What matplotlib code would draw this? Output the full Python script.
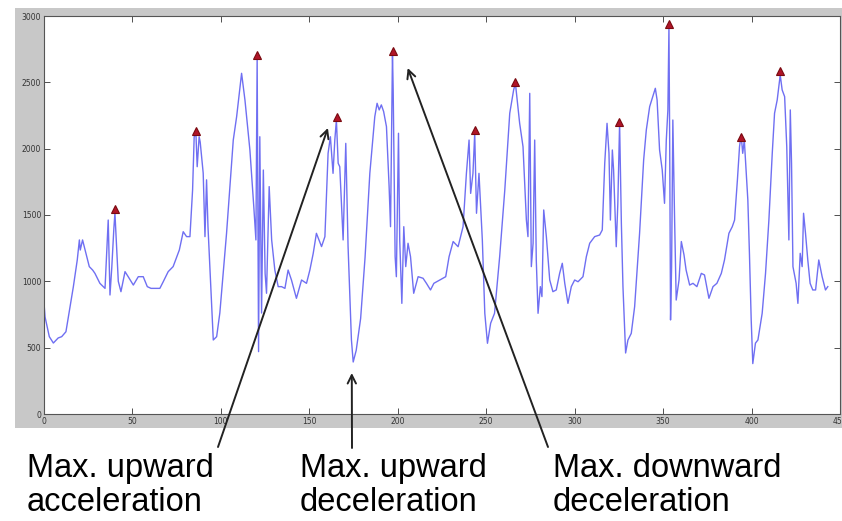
import matplotlib
matplotlib.use("Agg")
import matplotlib.pyplot as plt
from matplotlib.patches import Rectangle

# ---- data ----
sig_x = [0, 0.6, 3, 5.3, 8, 10, 12.4, 14.7, 16.6, 18.8, 20, 20.5, 21.8, 23.7, 25.6, 27.5, 28.8,
         31.6, 34.5, 36.3, 37.3, 38.3, 39.5, 40.1, 41.1, 42, 43.5, 45.8, 47.6, 50.5, 53.3, 56.1,
         58.4, 60.5, 65.5, 67.4, 70.2, 73, 76.5, 78.7, 80.6, 82.5, 84, 84.9, 85.9, 86.6, 87.7,
         88.3, 90, 91, 91.9, 92.7, 95.7, 97.6, 99.4, 103.2, 107, 108.9, 111.7, 113.6, 116.4,
         118.6, 119.8, 120.5, 121.3, 122, 123, 124, 125, 125.8, 127.3, 128.7, 130.5, 132.4,
         134.3, 136.2, 138, 139.9, 142.7, 145.6, 148.4, 150.3, 152.2, 154, 156.9, 158.8, 160.6,
         161.9, 163.4, 164.4, 165.3, 166.3, 167.2, 169.1, 170.6, 171.9, 173.8, 174.8, 176.5,
         179, 181.5, 184.2, 187, 188.3, 189.5, 190.7, 192, 193.6, 195.1, 195.9, 197, 197.4,
         198.5, 199.2, 200.4, 201.1, 202.3, 203.4, 204.5, 205.8, 207.2, 209, 211.5, 214.3,
         216.2, 218.5, 220.4, 223.7, 227.1, 229, 231.3, 234.1, 236.9, 238.8, 240.3, 241.2,
         242.5, 243.5, 244.5, 245.9, 247.8, 249.2, 250.7, 252.5, 254.7, 257.6, 260.5, 263.3,
         265.5, 266.5, 268.9, 270.8, 272.7, 273.6, 274.6, 275.5, 276.5, 277.4, 278.3, 279.3,
         280.6, 281.5, 282.5, 284, 285.9, 287.7, 289.6, 291.5, 293, 294.4, 296.2, 298.1, 300,
         301.9, 304.7, 306.6, 308.5, 311.3, 314.1, 315.6, 317, 318.3, 319.4, 320.2, 321.3, 322,
         323.5, 324.4, 325.4, 326.4, 327.3, 328.8, 330.1, 332, 333.9, 336.7, 339, 340.5, 342.4,
         344.3, 345.6, 346.6, 348, 349.5, 350.8, 351.8, 352.7, 353.3, 353.7, 354.2, 354.8,
         355.5, 356.5, 357.4, 359, 360.3, 361.8, 363, 365, 366.9, 369.1, 371.6, 373.4, 375.9,
         378.2, 380.4, 382.9, 384.7, 387.2, 389.1, 390.4, 392, 393.2, 394.1, 395, 395.9, 397.9,
         398.8, 399.8, 400.7, 402.2, 403.6, 406, 407.9, 409.8, 411.7, 413, 414.5, 415.4, 416.2,
         417.3, 418.7, 419.9, 421.1, 421.9, 422.6, 423.4, 425.2, 426.2, 427.5, 428.6, 429.4,
         430.5, 431.8, 433.1, 434.6, 436.2, 438, 439.9, 441.8, 443.1]
sig_y = [837, 731, 583, 535, 573, 583, 620, 809, 960, 1161, 1312, 1236, 1312, 1211, 1111, 1085, 1060,
         985, 947, 1462, 897, 1100, 1400, 1515, 1236, 1000, 922, 1073, 1035, 972, 1035, 1035,
         960, 947, 947, 997, 1073, 1111, 1236, 1374, 1337, 1337, 1689, 2090, 2110, 1864, 2090,
         2050, 1815, 1337, 1765, 1412, 558, 583, 761, 1362, 2065, 2241, 2568, 2367, 1990,
         1563, 1312, 2693, 470, 2090, 761, 1839, 1060, 910, 1714, 1312, 1085, 960,
         960, 947, 1085, 1010, 872, 1010, 985, 1085, 1211, 1362, 1262, 1337, 1965,
         2090, 1814, 2065, 2216, 1890, 1864, 1312, 2040, 1262, 558, 392, 480,
         720, 1180, 1814, 2241, 2342, 2292, 2330, 2280, 2166, 1714, 1412, 2719, 2443,
         1186, 1035, 2116, 1312, 834, 1412, 1111, 1287, 1186, 910, 1035, 1023,
         985, 935, 985, 1010, 1035, 1186, 1300, 1261, 1412, 1814, 2065, 1663,
         1814, 2116, 1513, 1814, 1312, 759, 533, 684, 759, 1186, 1689, 2267,
         2443, 2493, 2191, 2015, 1462, 1337, 2417, 1111, 1287, 2065, 1160, 759,
         960, 885, 1538, 1337, 1010, 922, 935, 1060, 1136, 985, 834, 960, 1010,
         997, 1035, 1186, 1287, 1337, 1349, 1387, 1890, 2191, 1965, 1462, 1990, 1840,
         1261, 1588, 2191, 1437, 960, 460, 557, 608, 809, 1362, 1915, 2141, 2317,
         2400, 2455, 2367, 1990, 1840, 1588, 2065, 2292, 2920, 2090, 709, 1110,
         2216, 1462, 859, 1010, 1300, 1200, 1085, 972, 985, 960, 1060, 1048, 872,
         960, 985, 1060, 1161, 1362, 1412, 1462, 1764, 2015, 2103, 1965, 2065, 1613,
         1211, 709, 380, 534, 558, 759, 1060, 1462, 1965, 2267, 2367, 2467, 2555,
         2443, 2392, 2015, 1312, 2292, 1890, 1111, 985, 834, 1211, 1111, 1513,
         1362, 1160, 985, 935, 935, 1161, 1035, 935, 960]

peak_x = [40.1, 85.9, 120.6, 165.5, 197.3, 243.5, 266.5, 325.2, 353.5, 394.1, 416.2]
peak_y = [1545, 2136, 2706, 2241, 2739, 2141, 2505, 2203, 2940, 2090, 2588]

x_ticks = [0, 50, 100, 150, 200, 250, 300, 350, 400, 450]
y_ticks = [0, 500, 1000, 1500, 2000, 2500, 3000]

labels = ["Max. upward\nacceleration", "Max. upward\ndeceleration", "Max. downward\ndeceleration"]
arrow_heads = [(160.5, 2156), (174.0, 309), (205.6, 2608)]

# ---- figure ----
W, H = 842, 521
fig = plt.figure(figsize=(W / 100, H / 100), dpi=100, facecolor="white")

# MATLAB-like gray window background (behind the axes)
fig.patches.append(Rectangle((15 / W, 1 - 428 / H), 1 - 15 / W, (428 - 8) / H,
                             transform=fig.transFigure, facecolor="#c8c8c8",
                             edgecolor="none", zorder=-10))

ax = fig.add_axes([44 / W, 1 - 414 / H, (840 - 44) / W, (414 - 16) / H])
ax.set_zorder(1)
ax.set_facecolor("white")
ax.plot(sig_x, sig_y, color="#6f6ff2", lw=1.0, zorder=2)
ax.plot(peak_x, peak_y, linestyle="none", marker="^", markersize=5.5,
        markerfacecolor="#b01428", markeredgecolor="#7a0a10", markeredgewidth=0.8, zorder=3)

ax.set_xlim(0, 450)
ax.set_ylim(0, 3000)
ax.set_xticks(x_ticks)
ax.set_yticks(y_ticks)
ax.tick_params(direction="in", length=4, width=0.6, labelsize=5.5, colors="#333333",
               top=True, right=True, pad=2)
for s in ax.spines.values():
    s.set_color("#555555")
    s.set_linewidth(0.8)

# annotations below the axes
text_px = [27, 300, 553]
tails_px = [(218, 447), (352, 448), (548, 447)]
for lab, tx in zip(labels, text_px):
    fig.text(tx / W, 1 - 453 / H, lab, ha="left", va="top", fontsize=23.5,
             family="Liberation Sans", color="black", linespacing=1.14, zorder=5)

for (hx, hy), (tx, ty) in zip(arrow_heads, tails_px):
    ax.annotate("", xy=(hx, hy), xycoords="data",
                xytext=(tx, H - ty), textcoords="figure pixels",
                arrowprops=dict(arrowstyle="->,head_length=0.6,head_width=0.3",
                                color="#222222", lw=1.4, shrinkA=0, shrinkB=0),
                annotation_clip=False)

fig.savefig("out.png", dpi=100, facecolor="white")
